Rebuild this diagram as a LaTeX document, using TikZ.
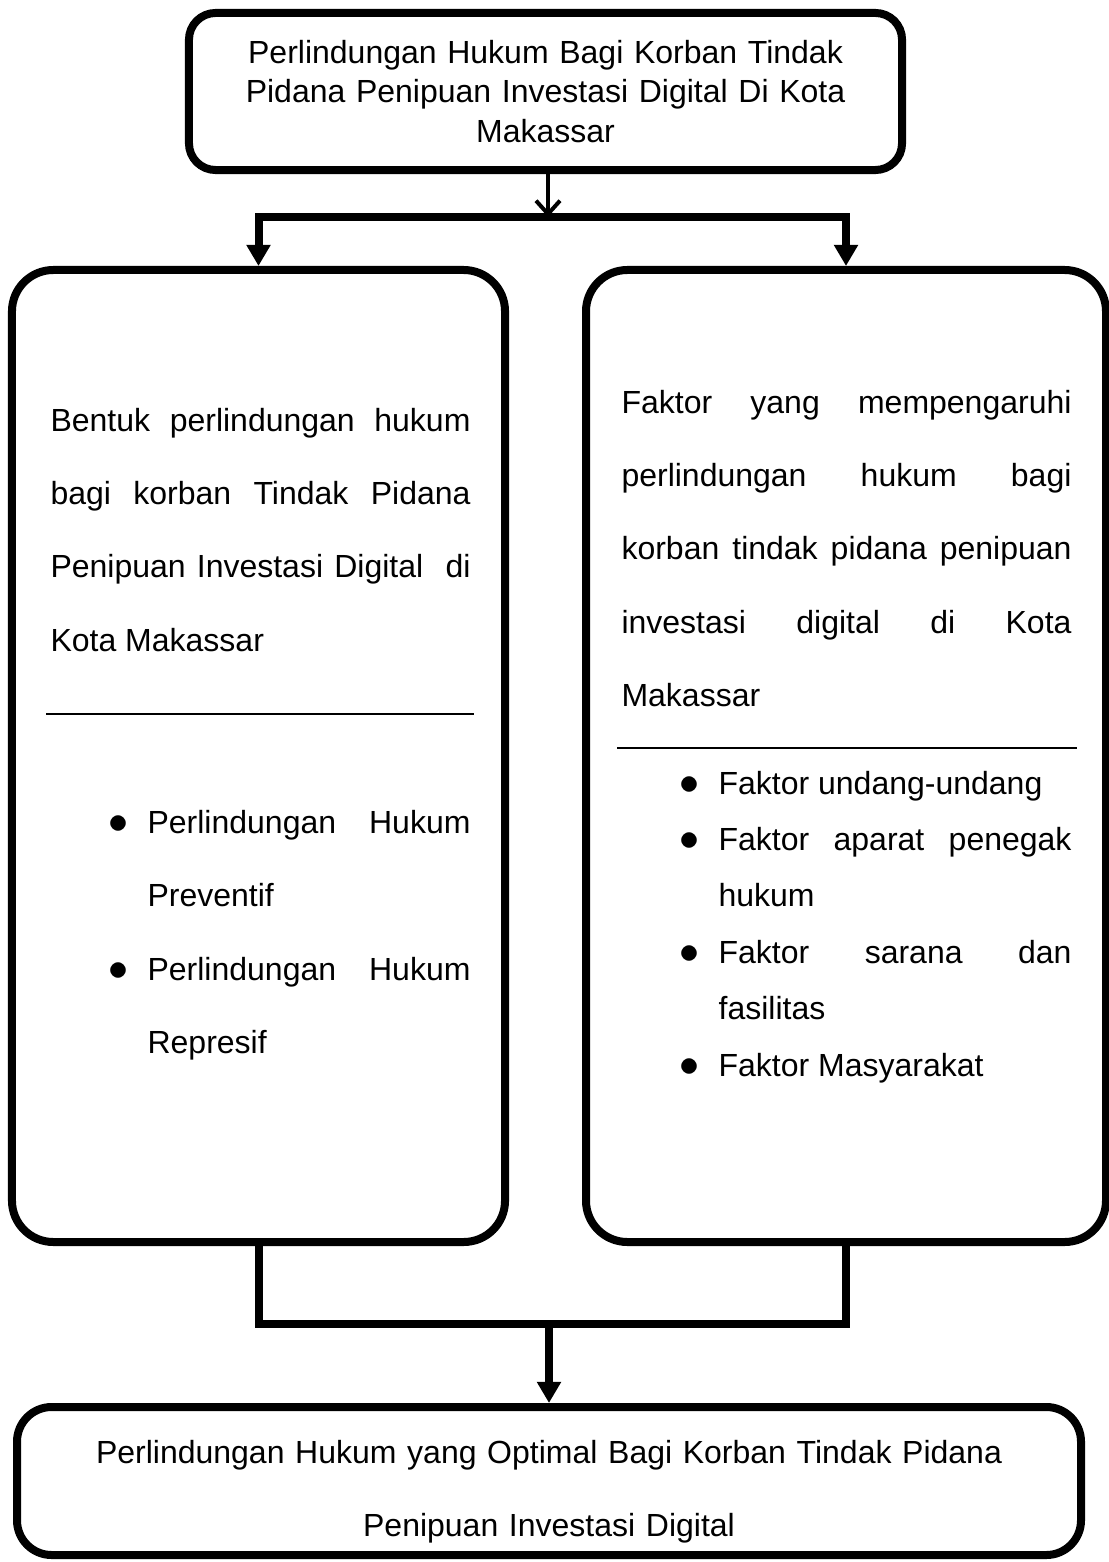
\documentclass[tikz,border=0pt]{standalone}
\usepackage{fontspec}
\setmainfont{Liberation Sans}
\usetikzlibrary{arrows.meta, positioning}

\tolerance=10000
\hyphenpenalty=10000
\exhyphenpenalty=10000

% butir daftar dengan titik menggantung
\newcommand{\butir}[1]{\hangindent=36.4pt\hangafter=0\noindent
  \llap{\scalebox{1.25}{$\bullet$}\hspace{7.3pt}}#1\par}

\tikzset{
  kotak/.style={draw, line width=3pt, inner sep=0pt, rounded corners=#1},
  garis/.style={line width=3pt, line join=miter},
  panah/.style={garis, -{Triangle[length=7.9pt, width=8.6pt]}},
  panahkecil/.style={line width=1.5pt, -{Straight Barb[length=5pt, width=9pt]}},
  pemisah/.style={line width=1pt},
  teks/.style={inner sep=0pt, anchor=base west, align=justify, font=\fontsize{12pt}{27.5pt}\selectfont},
}

\begin{document}
\begin{tikzpicture}[x=0.375pt, y=-0.375pt]
\useasboundingbox (0,0) rectangle (1109,1562);

% judul
\node[kotak=10pt, minimum width=267.4pt, minimum height=58.9pt, text width=240pt, align=center,
  font=\fontsize{12pt}{14.8pt}\selectfont] (judul) at (545.5,91.5)
  {Perlindungan Hukum Bagi Korban Tindak\\Pidana Penipuan Investasi Digital Di Kota\\Makassar};

% dua kotak tengah
\node[kotak=15.5pt, minimum width=184.9pt, minimum height=364.5pt] (bentuk) at (258.5,756) {};
\node[kotak=15.5pt, minimum width=195pt, minimum height=364.5pt] (faktor) at (846,756) {};

% kotak hasil
\node[kotak=13pt, minimum width=399pt, minimum height=55.5pt] (hasil) at (549,1481) {};

% isi kotak kiri
\node[teks, text width=157.5pt] (bentukteks) at (50,431)
  {Bentuk perlindungan hukum\linebreak bagi korban Tindak Pidana\linebreak
   Penipuan Investasi Digital\ \ di\linebreak Kota Makassar};
\draw[pemisah] (46,714) -- (474,714);
\node[teks, text width=157.5pt, font=\fontsize{12pt}{27.6pt}\selectfont] (bentukdaftar) at (50,833)
  {\butir{Perlindungan Hukum\linebreak Preventif}
   \butir{Perlindungan Hukum\linebreak Represif}};

% isi kotak kanan
\node[teks, text width=168.75pt] (faktorteks) at (621,413)
  {Faktor yang mempengaruhi\linebreak perlindungan hukum bagi\linebreak
   korban tindak pidana penipuan\linebreak investasi digital di Kota\linebreak Makassar};
\draw[pemisah] (617,748) -- (1077,748);
\node[teks, text width=168.75pt, font=\fontsize{12pt}{21.15pt}\selectfont] (faktordaftar) at (621,794)
  {\butir{Faktor undang-undang}
   \butir{Faktor aparat penegak\linebreak hukum}
   \butir{Faktor sarana dan\linebreak fasilitas}
   \butir{Faktor Masyarakat}};

% isi kotak hasil
\node[inner sep=0pt, anchor=base, text width=390pt, align=center,
  font=\fontsize{12pt}{27.4pt}\selectfont] (hasilteks) at (549,1463)
  {Perlindungan Hukum yang Optimal Bagi Korban Tindak Pidana\\Penipuan Investasi Digital};

% penghubung
\coordinate (cabang) at (548,217);
\coordinate (gabung) at (549,1324);
\draw[panahkecil] (cabang |- judul.south) -- (cabang);
\draw[garis, {Triangle[length=7.9pt, width=8.6pt]}-{Triangle[length=7.9pt, width=8.6pt]}]
  (bentuk.north) |- (cabang) -| (faktor.north);
\draw[garis] (bentuk.south) |- (gabung) -| (faktor.south);
\draw[panah] (gabung) -- (hasil.north);
\end{tikzpicture}
\end{document}
